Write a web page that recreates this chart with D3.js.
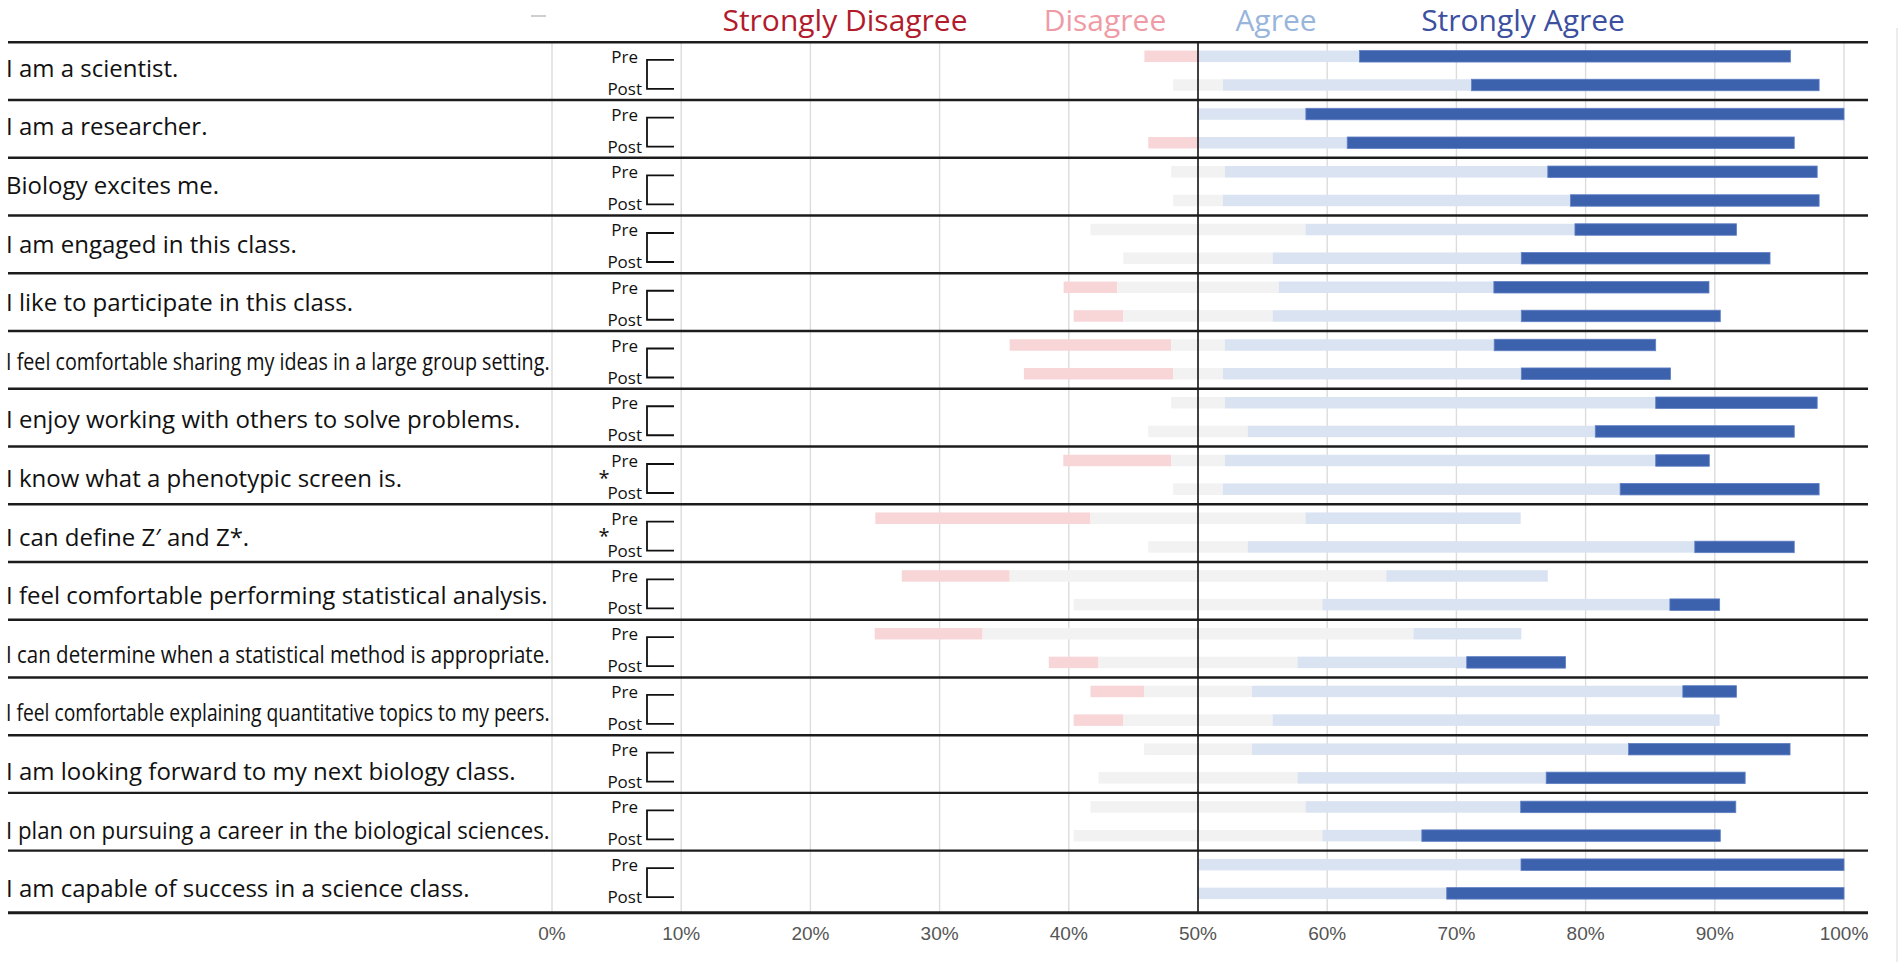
<!DOCTYPE html>
<html>
<head>
<meta charset="utf-8">
<script src="https://cdn.jsdelivr.net/npm/d3@7"></script>
<style>
  html, body { margin: 0; padding: 0; background: #fff; }
  svg { display: block; }
</style>
</head>
<body>
<div id="chart"></div>
<script>
// Survey statements, top to bottom
const statements = [
  'I am a scientist.',
  'I am a researcher.',
  'Biology excites me.',
  'I am engaged in this class.',
  'I like to participate in this class.',
  'I feel comfortable sharing my ideas in a large group setting.',
  'I enjoy working with others to solve problems.',
  'I know what a phenotypic screen is.',
  'I can define Z\u2032 and Z*.',
  'I feel comfortable performing statistical analysis.',
  'I can determine when a statistical method is appropriate.',
  'I feel comfortable explaining quantitative topics to my peers.',
  'I am looking forward to my next biology class.',
  'I plan on pursuing a career in the biological sciences.',
  'I am capable of success in a science class.'
];

// statements flagged with an asterisk (index)
const starred = [7, 8];

// response shares (% of students), Pre survey
const preStronglyDisagree = [0, 0, 0, 0, 0, 0, 0, 0, 0, 0, 0, 0, 0, 0, 0];
const preDisagree         = [8.3, 0, 0, 0, 8.3, 25, 0, 16.7, 33.3, 16.7, 16.7, 8.3, 0, 0, 0];
const preNeutral          = [0, 0, 8.3, 33.3, 25, 8.3, 8.3, 8.3, 33.3, 58.3, 66.7, 16.7, 16.7, 33.3, 0];
const preAgree            = [25, 16.7, 50, 41.7, 33.3, 41.7, 66.7, 66.7, 33.3, 25, 16.7, 66.7, 58.3, 33.3, 50];
const preStronglyAgree    = [66.7, 83.3, 41.7, 25, 33.3, 25, 25, 8.3, 0, 0, 0, 8.3, 25, 33.3, 50];

// response shares (% of students), Post survey
const postStronglyDisagree = [0, 0, 0, 0, 0, 0, 0, 0, 0, 0, 0, 0, 0, 0, 0];
const postDisagree         = [0, 7.7, 0, 0, 7.7, 23.1, 0, 0, 0, 0, 7.7, 7.7, 0, 0, 0];
const postNeutral          = [7.7, 0, 7.7, 23.1, 23.1, 7.7, 15.4, 7.7, 15.4, 38.5, 30.8, 23.1, 30.8, 38.5, 0];
const postAgree            = [38.5, 23.1, 53.8, 38.5, 38.5, 46.2, 53.8, 61.5, 69.2, 53.8, 26.2, 69.2, 38.5, 15.4, 38.5];
const postStronglyAgree    = [53.8, 69.2, 38.5, 38.5, 30.8, 23.1, 30.8, 30.8, 15.4, 7.7, 15.3, 0, 30.8, 46.2, 61.5];

const legendLabels = ['Strongly Disagree', 'Disagree', 'Agree', 'Strongly Agree'];
const tickValues = [0, 10, 20, 30, 40, 50, 60, 70, 80, 90, 100];

// colours
const legendColors = ['#b11b2c', '#ef9ba6', '#98b5dc', '#3d4f9f'];
const segColors = ['#b11b2c', '#f8d6d8', '#f2f2f2', '#dae3f2', '#3d62ad'];

const width = 1902, height = 968;
const font = '"Open Sans", "Noto Sans", sans-serif';

const svg = d3.select('#chart').append('svg')
  .attr('width', width)
  .attr('height', height)
  .attr('viewBox', [0, 0, width, height]);

svg.append('rect').attr('width', width).attr('height', height).attr('fill', '#fff');

// scales
const x = d3.scaleLinear().domain([0, 100]).range([552, 1844]);
const rowTop = 42.3, rowStep = 57.74, bottomY = 912.7;
const y = d3.scaleBand()
  .domain(d3.range(statements.length))
  .range([rowTop, rowTop + rowStep * statements.length])
  .paddingInner(0).paddingOuter(0);

const lineX0 = 8, lineX1 = 1868;

// faint frame bits from the original figure
svg.append('line').attr('x1', 531).attr('x2', 546).attr('y1', 16).attr('y2', 16)
  .attr('stroke', '#cfcfcf').attr('stroke-width', 2);
svg.append('line').attr('x1', 1897).attr('x2', 1897).attr('y1', 28).attr('y2', 962)
  .attr('stroke', '#e6e6e6').attr('stroke-width', 1.5);

// gridlines
svg.append('g')
  .selectAll('line')
  .data(tickValues.filter(d => d !== 50))
  .join('line')
  .attr('x1', d => x(d)).attr('x2', d => x(d))
  .attr('y1', rowTop).attr('y2', bottomY)
  .attr('stroke', '#dcdcdc')
  .attr('stroke-width', 1.4);

// build stacked segments; neutral is centred on 50 and the bar is drawn at half scale
function segments(i, sd, d, n, a, sa) {
  const vals = [sd[i], d[i], n[i], a[i], sa[i]];
  let pos = 50 - (vals[0] + vals[1] + vals[2] / 2) / 2;
  return vals.map((v, k) => {
    const s = { k: k, x0: pos, x1: pos + v / 2 };
    pos += v / 2;
    return s;
  }).filter(s => s.x1 - s.x0 > 0);
}

const barH = 11.5;
const bars = svg.append('g');
statements.forEach((s, i) => {
  const top = y(i);
  const rows = [
    { yc: top + 14, segs: segments(i, preStronglyDisagree, preDisagree, preNeutral, preAgree, preStronglyAgree) },
    { yc: top + 42.7, segs: segments(i, postStronglyDisagree, postDisagree, postNeutral, postAgree, postStronglyAgree) }
  ];
  rows.forEach(r => {
    bars.append('g')
      .selectAll('rect')
      .data(r.segs)
      .join('rect')
      .attr('x', d => x(d.x0))
      .attr('width', d => x(d.x1) - x(d.x0))
      .attr('y', r.yc - barH / 2)
      .attr('height', barH)
      .attr('fill', d => segColors[d.k])
      .attr('stroke', d => d.k === 4 ? '#5f7fc4' : 'none')
      .attr('stroke-width', 0.8);
  });
});

// 50% centre line
svg.append('line')
  .attr('x1', x(50)).attr('x2', x(50))
  .attr('y1', rowTop).attr('y2', bottomY)
  .attr('stroke', '#111').attr('stroke-width', 1.6);

// row separators
const seps = d3.range(statements.length).map(i => y(i));
svg.append('g')
  .selectAll('line')
  .data(seps.concat([bottomY]))
  .join('line')
  .attr('x1', lineX0).attr('x2', lineX1)
  .attr('y1', d => d).attr('y2', d => d)
  .attr('stroke', '#1c1c1c')
  .attr('stroke-width', (d, i) => i === seps.length ? 3 : 2.4);

// statement labels; long ones are squeezed to fit before the Pre/Post column
const maxLabelW = 544;
svg.append('g')
  .selectAll('text')
  .data(statements)
  .join('text')
  .attr('x', 0)
  .attr('y', 0)
  .attr('font-family', font)
  .attr('font-size', 24)
  .attr('fill', '#111')
  .text(d => d)
  .each(function(d, i) {
    const w = this.getComputedTextLength();
    const sx = w > maxLabelW ? maxLabelW / w : 1;
    d3.select(this).attr('transform', `translate(6,${68.3 + i * 58.6 + 8.5}) scale(${sx},1)`);
  });

// Pre / Post labels with brackets
const pp = svg.append('g');
statements.forEach((s, i) => {
  const top = y(i);
  pp.append('text')
    .attr('x', 638).attr('y', top + 20.5)
    .attr('text-anchor', 'end')
    .attr('font-family', font).attr('font-size', 17).attr('fill', '#111')
    .text('Pre');
  pp.append('text')
    .attr('x', 642).attr('y', top + 52.5)
    .attr('text-anchor', 'end')
    .attr('font-family', font).attr('font-size', 17).attr('fill', '#111')
    .text('Post');
  pp.append('path')
    .attr('d', `M674,${top + 17.5}H647V${top + 46.5}H674`)
    .attr('fill', 'none')
    .attr('stroke', '#111')
    .attr('stroke-width', 1.8);
  if (starred.includes(i)) {
    pp.append('text')
      .attr('x', 604).attr('y', top + 39)
      .attr('text-anchor', 'middle')
      .attr('font-family', font).attr('font-size', 20).attr('fill', '#111')
      .text('*');
  }
});

// legend across the top
const legendX = [845, 1105, 1276, 1523];
svg.append('g')
  .selectAll('text')
  .data(legendLabels)
  .join('text')
  .attr('x', (d, i) => legendX[i])
  .attr('y', 31)
  .attr('text-anchor', 'middle')
  .attr('font-family', font)
  .attr('font-size', 30)
  .attr('fill', (d, i) => legendColors[i])
  .text(d => d);

// x axis tick labels
svg.append('g')
  .selectAll('text')
  .data(tickValues)
  .join('text')
  .attr('x', d => x(d))
  .attr('y', 940)
  .attr('text-anchor', 'middle')
  .attr('font-family', '"Liberation Sans", Arial, sans-serif')
  .attr('font-size', 19)
  .attr('fill', '#555')
  .text(d => d + '%');
</script>
</body>
</html>
